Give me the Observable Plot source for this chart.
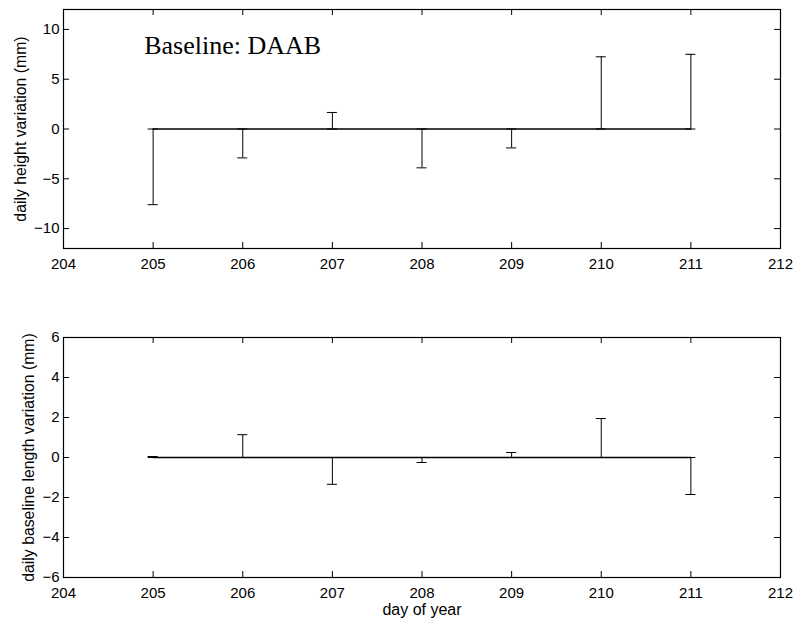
<!DOCTYPE html>
<html>
<head>
<meta charset="utf-8">
<script src="https://cdn.jsdelivr.net/npm/d3@7"></script>
<script src="https://cdn.jsdelivr.net/npm/@observablehq/plot@0.6"></script>
<style>
  html, body { margin: 0; padding: 0; background: #fff; }
  #chart svg { display: block; }
</style>
</head>
<body>
<div id="chart"></div>
<script>
// ---- data ----
const days = [205, 206, 207, 208, 209, 210, 211];
const heightVariation = [-7.6, -2.9, 1.66, -3.9, -1.9, 7.25, 7.5];
const lengthVariation = [0.05, 1.14, -1.34, -0.25, 0.25, 1.95, -1.85];
const xTicks = [204, 205, 206, 207, 208, 209, 210, 211, 212];
const heightTicks = [-10, -5, 0, 5, 10];
const lengthTicks = [-6, -4, -2, 0, 2, 4, 6];
const xDomain = [204, 212];
const heightDomain = [-12, 12];
const lengthDomain = [-6, 6];
const heightLabel = "daily height variation (mm)";
const lengthLabel = "daily baseline length variation (mm)";
const xLabel = "day of year";
const annotationText = "Baseline: DAAB";

const heightData = days.map((d, i) => ({day: d, v: heightVariation[i]}));
const lengthData = days.map((d, i) => ({day: d, v: lengthVariation[i]}));

const SANS = "Liberation Sans, Arial, Helvetica, sans-serif";

function panel({data, yDomain, yTicks, yLabel, height, marginTop, marginBottom, yLabelDx, extra = []}) {
  const [x0, x1] = xDomain;
  const [y0, y1] = yDomain;
  return Plot.plot({
    width: 798,
    height,
    marginLeft: 63,
    marginRight: 18,
    marginTop,
    marginBottom,
    style: {fontFamily: SANS, fontSize: "15px", color: "#000", background: "#fff"},
    x: {domain: xDomain, label: null},
    y: {domain: yDomain, label: null},
    marks: [
      Plot.axisX(xTicks, {tickSize: 0, tickPadding: 10, fontSize: 15}),
      Plot.axisY(yTicks, {tickSize: 0, tickPadding: 4, fontSize: 15}),
      // inward ticks on all four sides
      Plot.ruleX(xTicks, {x: d => d, y1: y0, y2: y0, insetBottom: 6, stroke: "#000"}),
      Plot.ruleX(xTicks, {x: d => d, y1: y1, y2: y1, insetBottom: -6, stroke: "#000"}),
      Plot.ruleY(yTicks, {y: d => d, x1: x0, x2: x0, insetRight: -6, stroke: "#000"}),
      Plot.ruleY(yTicks, {y: d => d, x1: x1, x2: x1, insetLeft: -6, stroke: "#000"}),
      Plot.frame({stroke: "#000", strokeWidth: 1.2}),
      // zero series line
      Plot.line(data, {x: "day", y: () => 0, stroke: "#000"}),
      // error bars
      Plot.ruleX(data, {x: "day", y1: () => 0, y2: "v", stroke: "#000"}),
      Plot.ruleY(data, {y: "v", x1: "day", x2: "day", insetLeft: -5, insetRight: -5, stroke: "#000"}),
      Plot.ruleY(data, {y: () => 0, x1: "day", x2: "day", insetLeft: -5, insetRight: -5, stroke: "#000"}),
      // y axis title
      Plot.text([yLabel], {frameAnchor: "left", textAnchor: "middle", lineAnchor: "middle", rotate: -90,
        dx: yLabelDx, fontSize: 15.8, fill: "#000"}),
      ...extra
    ]
  });
}

const topPanel = panel({
  data: heightData,
  yDomain: heightDomain,
  yTicks: heightTicks,
  yLabel: heightLabel,
  height: 300,
  marginTop: 9,
  marginBottom: 52,
  yLabelDx: -43,
  extra: [
    Plot.text([annotationText], {x: () => 204.9, y: () => 7.5, textAnchor: "start", lineAnchor: "bottom",
      fontFamily: "Liberation Serif, Times New Roman, serif", fontSize: 26, fill: "#000"})
  ]
});

const bottomPanel = panel({
  data: lengthData,
  yDomain: lengthDomain,
  yTicks: lengthTicks,
  yLabel: lengthLabel,
  height: 323,
  marginTop: 37,
  marginBottom: 46,
  yLabelDx: -35,
  extra: [
    Plot.text([xLabel], {frameAnchor: "bottom", lineAnchor: "top", dy: 26, fontSize: 16, fill: "#000"})
  ]
});

const chart = document.getElementById("chart");
chart.appendChild(topPanel);
chart.appendChild(bottomPanel);
</script>
</body>
</html>
